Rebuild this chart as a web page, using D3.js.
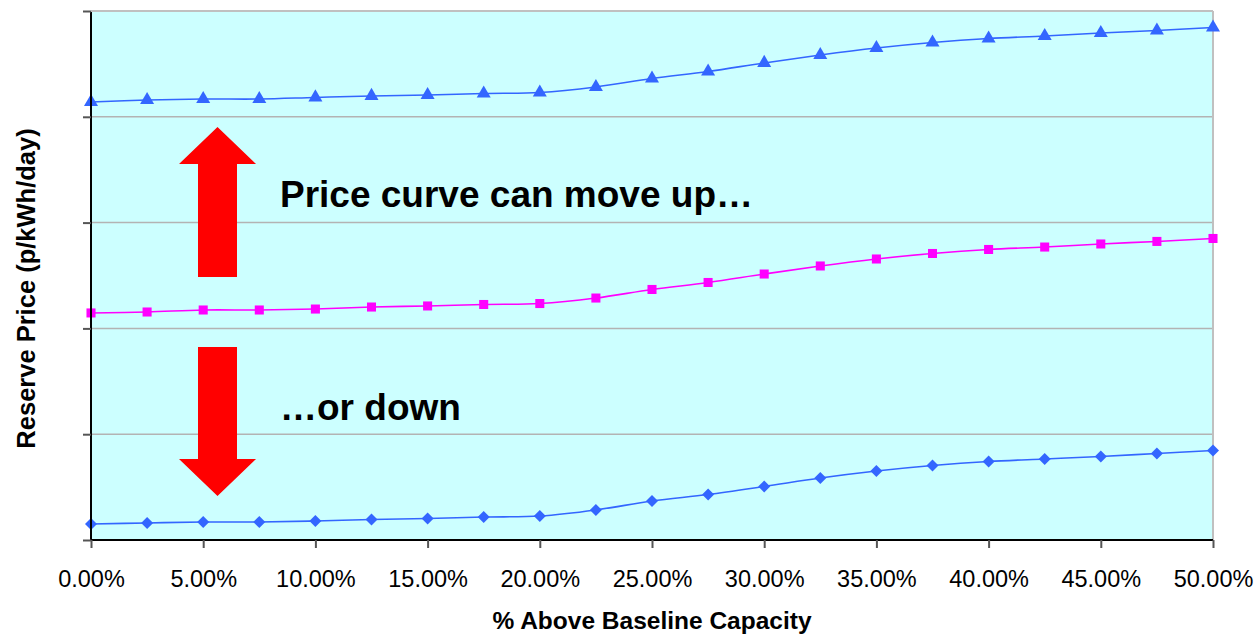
<!DOCTYPE html>
<html><head><meta charset="utf-8">
<script src="https://cdn.jsdelivr.net/npm/d3@7"></script>
<style>body{margin:0;background:#fff;} svg{display:block;font-family:"Liberation Sans",Arial,sans-serif;}</style>
</head><body>
<svg id="chart" width="1256" height="635"></svg>
<script>
const xValues = [0,2.5,5,7.5,10,12.5,15,17.5,20,22.5,25,27.5,30,32.5,35,37.5,40,42.5,45,47.5,50];
const xTicks = [0,5,10,15,20,25,30,35,40,45,50];
const yTicks = [0,1,2,3,4,5];
const lowSeries  = [0.151,0.161,0.170,0.170,0.180,0.194,0.203,0.217,0.227,0.284,0.369,0.430,0.506,0.586,0.652,0.704,0.742,0.766,0.789,0.818,0.846];
const baseSeries = [2.146,2.155,2.174,2.174,2.183,2.202,2.212,2.226,2.235,2.287,2.368,2.434,2.514,2.590,2.656,2.708,2.746,2.769,2.798,2.822,2.850];
const highSeries = [4.140,4.159,4.168,4.168,4.183,4.197,4.206,4.220,4.230,4.282,4.362,4.428,4.509,4.584,4.650,4.702,4.740,4.764,4.792,4.816,4.844];
const annotations = ["Price curve can move up\u2026", "\u2026or down"];
const xTitle = "% Above Baseline Capacity";
const yTitle = "Reserve Price (p/kWh/day)";

const svg = d3.select("#chart");
const L = 91, R = 1213, T = 11, B = 540;
const x = d3.scaleLinear().domain([0,50]).range([L,R]);
const y = d3.scaleLinear().domain([0,5]).range([B,T]);

svg.append("rect").attr("x",L).attr("y",T).attr("width",R-L).attr("height",B-T).attr("fill","#CCFFFF");
svg.append("g").selectAll("line").data(yTicks.slice(1)).join("line")
  .attr("x1",L).attr("x2",R).attr("y1",d=>y(d)).attr("y2",d=>y(d))
  .attr("stroke","#b3b3b3").attr("stroke-width",1.5);
svg.append("line").attr("x1",R).attr("x2",R).attr("y1",T).attr("y2",B).attr("stroke","#c0c0c0").attr("stroke-width",2);

const arrowColor = "#FF0000";
function arrowPath(cx, tipY, headBaseY, endY, headHalf, shaftHalf){
  return `M${cx},${tipY} L${cx+headHalf},${headBaseY} L${cx+shaftHalf},${headBaseY} L${cx+shaftHalf},${endY} L${cx-shaftHalf},${endY} L${cx-shaftHalf},${headBaseY} L${cx-headHalf},${headBaseY} Z`;
}
svg.append("path").attr("d",arrowPath(217.5,127,164,277,38.5,19.5)).attr("fill",arrowColor);
svg.append("path").attr("d",arrowPath(217.5,496,459,347,38.5,19.5)).attr("fill",arrowColor);

svg.append("text").attr("x",280).attr("y",207).attr("font-size",37).attr("font-weight","bold").text(annotations[0]);
svg.append("text").attr("x",280).attr("y",420).attr("font-size",37).attr("font-weight","bold").text(annotations[1]);

const line = d3.line().x((d,i)=>x(xValues[i])).y(d=>y(d)).curve(d3.curveCatmullRom.alpha(0));
const blue = "#3366FF", mag = "#FF00FF";
function drawSeries(data, color, shape, size, rot){
  svg.append("path").datum(data).attr("d",line).attr("fill","none").attr("stroke",color).attr("stroke-width",1.6);
  svg.append("g").selectAll("path").data(data).join("path")
    .attr("transform",(d,i)=>`translate(${x(xValues[i])},${y(d)}) rotate(${rot})`)
    .attr("d",d3.symbol().type(shape).size(size)).attr("fill",color);
}
drawSeries(lowSeries, blue, d3.symbolSquare, 72, 45);
drawSeries(baseSeries, mag, d3.symbolSquare, 82, 0);
drawSeries(highSeries, blue, d3.symbolTriangle, 85, 0);

const yAxis = d3.axisLeft(y).tickValues(yTicks).tickSize(8).tickFormat("");
const gy = svg.append("g").attr("transform",`translate(${L},0)`).call(yAxis);
gy.select(".domain").attr("stroke","#000").attr("stroke-width",2).attr("d",`M0,${T}V${B}`);
gy.selectAll(".tick line").attr("stroke","#555").attr("stroke-width",2);

const xAxis = d3.axisBottom(x).tickValues(xTicks).tickSize(8).tickFormat(d=>d.toFixed(2)+"%");
const gx = svg.append("g").attr("transform",`translate(0,${B})`).call(xAxis);
gx.select(".domain").attr("stroke","#000").attr("stroke-width",2).attr("d",`M${L},0H${R}`);
gx.selectAll(".tick line").attr("stroke","#555").attr("stroke-width",2);
gx.selectAll(".tick text").attr("font-size",23.5).attr("font-family","Liberation Sans, Arial, sans-serif").attr("fill","#000").attr("dy",null).attr("y",47);

svg.append("line").attr("x1",L).attr("x2",R).attr("y1",T).attr("y2",T).attr("stroke","#c0c0c0").attr("stroke-width",2);

svg.append("text").attr("x",652).attr("y",629).attr("text-anchor","middle").attr("font-size",24.5).attr("font-weight","bold").text(xTitle);
svg.append("text").attr("transform","translate(35,288.5) rotate(-90)").attr("text-anchor","middle").attr("font-size",25.5).attr("font-weight","bold").text(yTitle);
</script>
</body></html>
